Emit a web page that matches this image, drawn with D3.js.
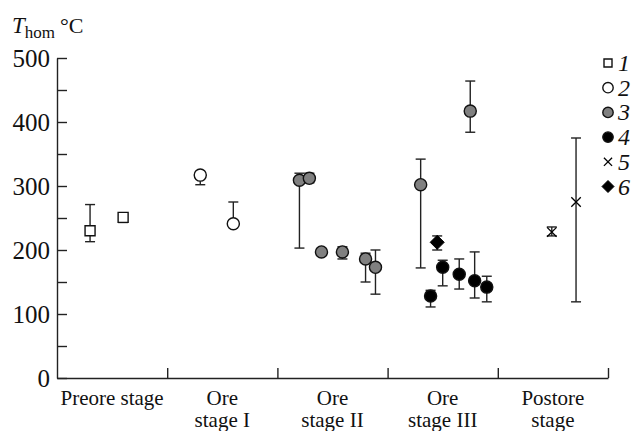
<!DOCTYPE html>
<html>
<head>
<meta charset="utf-8">
<script src="https://cdn.jsdelivr.net/npm/d3@7"></script>
<style>
  body { margin: 0; background: #fff; }
</style>
</head>
<body>
<div id="chart-area"></div>
<script>
// stages along the x axis, each one unit wide
var stageLines = [["Preore stage"], ["Ore", "stage I"], ["Ore", "stage II"], ["Ore", "stage III"], ["Postore", "stage"]];
var yTicks = [0, 50, 100, 150, 200, 250, 300, 350, 400, 450, 500];
var legendLabels = ["1", "2", "3", "4", "5", "6"];

// series: place = position in stage units, t = Thom, lo / hi = error bar ends
var place1 = [0.30, 0.60];
var t1 = [230, 251];
var lo1 = [213, 243];
var hi1 = [271, 255];

var place2 = [1.30, 1.60];
var t2 = [317, 241];
var lo2 = [302, 241];
var hi2 = [317, 275];

var place3 = [2.20, 2.29, 2.40, 2.59, 2.80, 2.89, 3.30, 3.75];
var t3 = [309, 312, 197, 197, 186, 173, 302, 417];
var lo3 = [203, 305, 193, 186, 150, 131, 172, 384];
var hi3 = [320, 320, 200, 205, 195, 200, 342, 464];

var place4 = [3.39, 3.50, 3.65, 3.79, 3.90];
var t4 = [128, 173, 162, 152, 142];
var lo4 = [111, 144, 139, 125, 119];
var hi4 = [137, 184, 186, 197, 159];

var place5 = [4.49, 4.71];
var t5 = [228, 275];
var lo5 = [222, 119];
var hi5 = [236, 375];

var place6 = [3.45];
var t6 = [212];
var lo6 = [200];
var hi6 = [222];

var FONT = '"Liberation Serif", "Times New Roman", Times, serif';
var W = 636, H = 431;
var svg = d3.select('#chart-area').append('svg')
    .attr('width', W)
    .attr('height', H)
    .attr('font-family', FONT);

var x = d3.scaleLinear().domain([0, 5]).range([57, 608]);
var y = d3.scaleLinear().domain([0, 500]).range([378, 58]);

// y axis, ticks pointing inward
var yAxis = svg.append('g')
    .attr('transform', 'translate(' + x(0) + ',0)')
    .call(d3.axisLeft(y).tickValues(yTicks).tickSizeInner(-10).tickSizeOuter(0).tickPadding(7)
        .tickFormat(function (d) { return d % 100 === 0 ? d : ''; }));
yAxis.attr('font-family', FONT).attr('font-size', 25);
yAxis.selectAll('text').attr('fill', '#111');
yAxis.selectAll('line, path').attr('stroke', '#222').attr('stroke-width', 1.4);

// x axis: stage separators as upward ticks
var xAxis = svg.append('g')
    .attr('transform', 'translate(0,' + y(0) + ')')
    .call(d3.axisBottom(x).tickValues([1, 2, 3, 4, 5]).tickSizeInner(-10).tickSizeOuter(0).tickFormat(''));
xAxis.selectAll('line, path').attr('stroke', '#222').attr('stroke-width', 1.4);

// stage names
stageLines.forEach(function (lines, i) {
    var t = svg.append('text')
        .attr('text-anchor', 'middle')
        .attr('font-family', FONT)
        .attr('font-size', 21)
        .attr('fill', '#111');
    lines.forEach(function (s, j) {
        t.append('tspan')
            .attr('x', x(i + 0.5))
            .attr('y', 405 + j * 22)
            .text(s);
    });
});

// axis title
var title = svg.append('text').attr('x', 12).attr('y', 33)
    .attr('font-family', FONT).attr('font-size', 23).attr('fill', '#111');
title.append('tspan').attr('font-style', 'italic').text('T');
title.append('tspan').attr('font-size', 17).attr('dy', 5).text('hom');
title.append('tspan').attr('dy', -5).attr('dx', 5).attr('font-size', 22).text('°C');

var symbols = {
    square: d3.symbol().type(d3.symbolSquare),
    circle: d3.symbol().type(d3.symbolCircle),
    cross: d3.symbol().type(d3.symbolX)
};
function diamond(r) {
    return 'M0,' + (-r) + 'L' + r + ',0L0,' + r + 'L' + (-r) + ',0Z';
}

var series = [
    { place: place1, t: t1, lo: lo1, hi: hi1, kind: 'square', size: 100, fill: '#fff' },
    { place: place2, t: t2, lo: lo2, hi: hi2, kind: 'circle', size: 115, fill: '#fff' },
    { place: place3, t: t3, lo: lo3, hi: hi3, kind: 'circle', size: 115, fill: '#808080' },
    { place: place4, t: t4, lo: lo4, hi: hi4, kind: 'circle', size: 115, fill: '#000' },
    { place: place5, t: t5, lo: lo5, hi: hi5, kind: 'cross', size: 60, fill: 'none' },
    { place: place6, t: t6, lo: lo6, hi: hi6, kind: 'diamond', size: 7, fill: '#000' }
];

function drawMark(g, s, size) {
    if (s.kind === 'diamond') {
        g.append('path').attr('d', diamond(size)).attr('fill', s.fill).attr('stroke', '#000').attr('stroke-width', 1);
    } else if (s.kind === 'cross') {
        g.append('path').attr('d', symbols.cross.size(size)()).attr('fill', 'none').attr('stroke', '#000').attr('stroke-width', 1.3);
    } else {
        g.append('path').attr('d', symbols[s.kind].size(size)()).attr('fill', s.fill).attr('stroke', '#111').attr('stroke-width', 1.4);
    }
}

// error bars first
series.forEach(function (s) {
    var rows = s.place.map(function (p, i) { return { p: p, lo: s.lo[i], hi: s.hi[i] }; });
    var bars = svg.append('g').attr('stroke', '#222').attr('stroke-width', 1.4);
    rows.forEach(function (d) {
        var cx = x(d.p);
        bars.append('line').attr('x1', cx).attr('x2', cx).attr('y1', y(d.lo)).attr('y2', y(d.hi));
        bars.append('line').attr('x1', cx - 5).attr('x2', cx + 5).attr('y1', y(d.lo)).attr('y2', y(d.lo));
        bars.append('line').attr('x1', cx - 5).attr('x2', cx + 5).attr('y1', y(d.hi)).attr('y2', y(d.hi));
    });
});

// markers
series.forEach(function (s) {
    s.place.forEach(function (p, i) {
        var g = svg.append('g').attr('transform', 'translate(' + x(p) + ',' + y(s.t[i]) + ')');
        drawMark(g, s, s.size);
    });
});

// legend
var legendSizes = [64, 85, 85, 85, 45, 6];
legendLabels.forEach(function (lab, i) {
    var ly = 63 + i * 24.7;
    var g = svg.append('g').attr('transform', 'translate(608,' + ly + ')');
    drawMark(g, series[i], legendSizes[i]);
    svg.append('text')
        .attr('x', 618)
        .attr('y', ly + 8)
        .attr('font-family', FONT)
        .attr('font-size', 24)
        .attr('font-style', 'italic')
        .attr('fill', '#111')
        .text(lab);
});
</script>
</body>
</html>
